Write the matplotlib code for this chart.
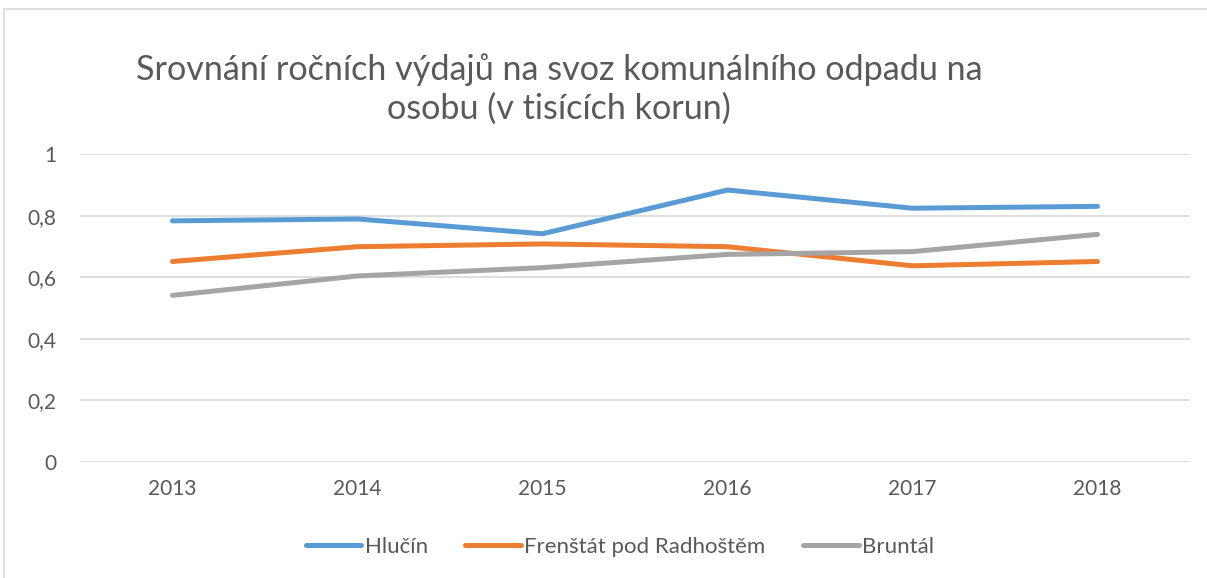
import matplotlib.pyplot as plt
from matplotlib.patches import Rectangle

years = ["2013", "2014", "2015", "2016", "2017", "2018"]
hlucin = [0.783, 0.789, 0.741, 0.883, 0.824, 0.830]
frenstat = [0.651, 0.699, 0.708, 0.699, 0.637, 0.651]
bruntal = [0.541, 0.604, 0.631, 0.674, 0.683, 0.739]

series = [
    ("Hlučín", hlucin, "#5B9BD5"),
    ("Frenštát pod Radhoštěm", frenstat, "#ED7D31"),
    ("Bruntál", bruntal, "#A5A5A5"),
]

plt.rcParams["font.family"] = ["Lato", "DejaVu Sans"]
text_color = "#595959"

fig = plt.figure(figsize=(12.07, 5.78), dpi=100)
ax = fig.add_axes([80 / 1207, 1 - 462 / 578, 1110 / 1207, 308 / 578])

x = range(len(years))
for name, vals, color in series:
    ax.plot(x, vals, color=color, lw=3.6, label=name, solid_capstyle="round")

ax.set_xlim(-0.5, len(years) - 0.5)
ax.set_ylim(0, 1)
ax.set_yticks([0, 0.2, 0.4, 0.6, 0.8, 1])
ax.set_yticklabels(["0", "0,2", "0,4", "0,6", "0,8", "1"])
ax.set_xticks(list(x))
ax.set_xticklabels(years)
ax.tick_params(length=0, labelsize=15, colors=text_color, pad=12)
ax.tick_params(axis="y", pad=17)
ax.yaxis.grid(True, color="#D9D9D9", lw=1.2)
ax.set_axisbelow(True)
for s in ax.spines.values():
    s.set_visible(False)

fig.text(559 / 1207, 1 - 89 / 578,
         "Srovnání ročních výdajů na svoz komunálního odpadu na\nosobu (v tisících korun)",
         ha="center", va="center", fontsize=24.6, color=text_color, linespacing=1.25)

leg = fig.legend(loc="center", bbox_to_anchor=(620 / 1207, 1 - 547 / 578), ncol=3,
                 frameon=False, fontsize=16, handlelength=2.5, handletextpad=0.15,
                 columnspacing=1.7)
for t in leg.get_texts():
    t.set_color(text_color)

fig.patches.append(Rectangle((4 / 1207, -0.01), 1.01, 1 - 9 / 578 + 0.01,
                             transform=fig.transFigure, fill=False,
                             edgecolor="#D9D9D9", lw=1.2))

fig.savefig("out.png", dpi=100)
